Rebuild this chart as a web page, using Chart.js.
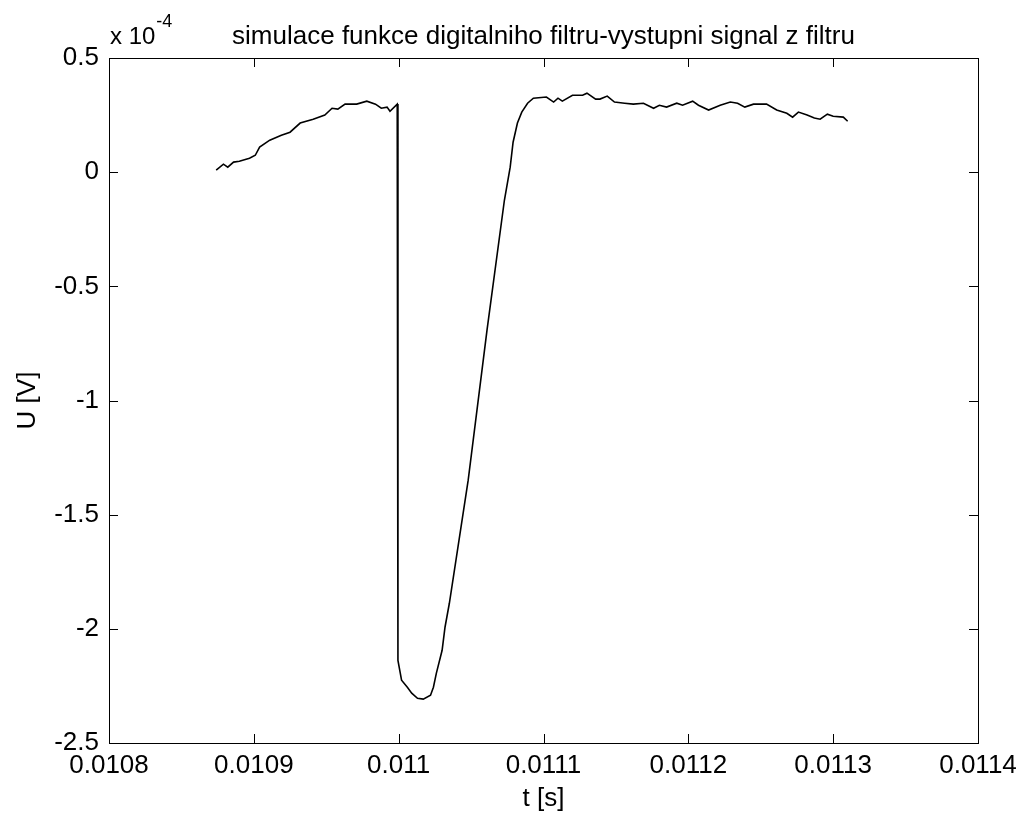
<!DOCTYPE html>
<html>
<head>
<meta charset="utf-8">
<title>simulace funkce digitalniho filtru</title>
<script src="https://cdn.jsdelivr.net/npm/chart.js@4.4.1/dist/chart.umd.min.js"></script>
<style>
    html, body { margin: 0; padding: 0; background: #fff; }
    #wrap { width: 1019px; height: 814px; position: relative; }
</style>
</head>
<body>
<div id="wrap"><canvas id="filter-output"></canvas></div>
<script>

var chartTitle = "simulace funkce digitalniho filtru-vystupni signal z filtru";

// t [s]
var time = [
    0.010874, 0.010879, 0.010882, 0.010886, 0.010890, 0.010897, 0.010901, 0.010904, 0.010911, 0.010919,
    0.010925, 0.010932, 0.010941, 0.010949, 0.010954, 0.010958, 0.010963, 0.010971, 0.010978, 0.010984,
    0.010988, 0.010992, 0.010994, 0.010999, 0.0109995, 0.011002, 0.011006, 0.011009, 0.011013, 0.011017,
    0.011022, 0.011024, 0.011026, 0.011030, 0.011032, 0.011035, 0.011048, 0.011061, 0.011073, 0.011077,
    0.011079, 0.011082, 0.011085, 0.011089, 0.011093, 0.011102, 0.011107, 0.011110, 0.011113, 0.011120,
    0.011127, 0.011130, 0.011136, 0.011139, 0.011144, 0.011149, 0.011156, 0.011162, 0.011169, 0.011176,
    0.011180, 0.011185, 0.011192, 0.011196, 0.011203, 0.011207, 0.011214, 0.011222, 0.011229, 0.011234,
    0.011239, 0.011245, 0.011254, 0.011261, 0.011268, 0.011272, 0.011276, 0.011282, 0.011287, 0.011291,
    0.011296, 0.011300, 0.011307, 0.011310
];

// U [V], in units of 1e-4
var signal = [
    0.009, 0.035, 0.022, 0.044, 0.048, 0.061, 0.074, 0.110, 0.140, 0.162,
    0.175, 0.215, 0.232, 0.250, 0.280, 0.276, 0.298, 0.298, 0.311, 0.298,
    0.280, 0.285, 0.267, 0.298, -2.138, -2.225, -2.256, -2.282, -2.304, -2.308,
    -2.291, -2.256, -2.195, -2.094, -1.993, -1.888, -1.349, -0.692, -0.123, 0.022,
    0.131, 0.215, 0.263, 0.302, 0.324, 0.329, 0.307, 0.324, 0.311, 0.337,
    0.337, 0.346, 0.320, 0.320, 0.333, 0.307, 0.302, 0.298, 0.302, 0.280,
    0.293, 0.285, 0.302, 0.293, 0.311, 0.293, 0.272, 0.293, 0.307, 0.302,
    0.285, 0.298, 0.298, 0.272, 0.258, 0.241, 0.263, 0.250, 0.237, 0.232,
    0.254, 0.245, 0.241, 0.223
];

var xTicks = [0.0108, 0.0109, 0.0110, 0.0111, 0.0112, 0.0113, 0.0114];
var xTickLabels = ["0.0108", "0.0109", "0.011", "0.0111", "0.0112", "0.0113", "0.0114"];
var yTicks = [-2.5, -2, -1.5, -1, -0.5, 0, 0.5];
var yTickLabels = ["-2.5", "-2", "-1.5", "-1", "-0.5", "0", "0.5"];

var fontFamily = '"Liberation Sans", Arial, Helvetica, sans-serif';
var tickLen = 9;

(function () {

    var points = time.map(function (t, i) {
        return { x: t, y: signal[i] };
    });

    // box, inward ticks on all four sides, title and exponent label
    var matlabAxes = {
        id: 'matlabAxes',
        afterDraw: function (chart) {
            var ctx = chart.ctx;
            var a = chart.chartArea;
            var xs = chart.scales.x;
            var ys = chart.scales.y;

            ctx.save();
            ctx.strokeStyle = '#000';
            ctx.lineWidth = 1;
            ctx.strokeRect(Math.round(a.left) + 0.5, Math.round(a.top) + 0.5,
                Math.round(a.right - a.left), Math.round(a.bottom - a.top));

            ctx.beginPath();
            xTicks.forEach(function (v) {
                var px = Math.round(xs.getPixelForValue(v)) + 0.5;
                ctx.moveTo(px, a.bottom);
                ctx.lineTo(px, a.bottom - tickLen);
                ctx.moveTo(px, a.top);
                ctx.lineTo(px, a.top + tickLen);
            });
            yTicks.forEach(function (v) {
                var py = Math.round(ys.getPixelForValue(v)) + 0.5;
                ctx.moveTo(a.left, py);
                ctx.lineTo(a.left + tickLen, py);
                ctx.moveTo(a.right, py);
                ctx.lineTo(a.right - tickLen, py);
            });
            ctx.stroke();

            ctx.fillStyle = '#000';
            ctx.textBaseline = 'alphabetic';
            ctx.textAlign = 'center';
            ctx.font = '26px ' + fontFamily;
            ctx.fillText(chartTitle, (a.left + a.right) / 2, 44);

            ctx.textAlign = 'left';
            ctx.font = '24px ' + fontFamily;
            ctx.fillText("x 10", a.left + 1, 44);
            var w = ctx.measureText("x 10").width;
            ctx.font = '18px ' + fontFamily;
            ctx.fillText("-4", a.left + 1 + w + 1, 27);
            ctx.restore();
        }
    };

    var canvas = document.getElementById('filter-output').getContext('2d');

    new Chart(canvas, {
        type: 'scatter',
        data: {
            datasets: [
                {
                    data: points,
                    showLine: true,
                    borderColor: '#000',
                    borderWidth: 1.6,
                    pointRadius: 0,
                    tension: 0,
                    fill: false
                }
            ]
        },
        options: {
            responsive: true,
            maintainAspectRatio: false,
            animation: false,
            layout: {
                padding: { top: 58, right: 41, left: 0, bottom: 0 }
            },
            plugins: {
                legend: { display: false },
                tooltip: { enabled: false }
            },
            scales: {
                x: {
                    type: 'linear',
                    min: 0.0108,
                    max: 0.0114,
                    afterBuildTicks: function (scale) {
                        scale.ticks = xTicks.map(function (v) { return { value: v }; });
                    },
                    afterFit: function (scale) {
                        scale.height = 71;
                        scale.paddingLeft = 0;
                        scale.paddingRight = 0;
                    },
                    grid: { display: false, drawTicks: false },
                    border: { display: false },
                    ticks: {
                        autoSkip: false,
                        maxRotation: 0,
                        padding: 7,
                        color: '#000',
                        font: { family: fontFamily, size: 26 },
                        callback: function (value, index) {
                            return xTickLabels[index];
                        }
                    },
                    title: {
                        display: true,
                        text: 't [s]',
                        color: '#000',
                        font: { family: fontFamily, size: 26 },
                        padding: { top: 0, bottom: 0 }
                    }
                },
                y: {
                    type: 'linear',
                    min: -2.5,
                    max: 0.5,
                    afterBuildTicks: function (scale) {
                        scale.ticks = yTicks.map(function (v) { return { value: v }; });
                    },
                    afterFit: function (scale) {
                        scale.width = 109;
                        scale.paddingTop = 0;
                        scale.paddingBottom = 0;
                    },
                    grid: { display: false, drawTicks: false },
                    border: { display: false },
                    ticks: {
                        autoSkip: false,
                        padding: 10,
                        color: '#000',
                        font: { family: fontFamily, size: 26 },
                        callback: function (value, index) {
                            return yTickLabels[index];
                        }
                    },
                    title: {
                        display: true,
                        text: 'U [V]',
                        color: '#000',
                        font: { family: fontFamily, size: 26 },
                        padding: { top: 12, bottom: 0 }
                    }
                }
            }
        },
        plugins: [matlabAxes]
    });

})();
</script>
</body>
</html>
